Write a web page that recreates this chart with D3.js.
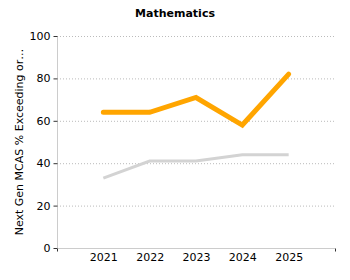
<!DOCTYPE html>
<html>
<head>
<meta charset="utf-8">
<script src="https://cdn.jsdelivr.net/npm/d3@7"></script>
<style>
  body { margin: 0; background: #fff; }
  text { font-family: "DejaVu Sans", Verdana, sans-serif; }
</style>
</head>
<body>
<svg id="chart" width="350" height="280"></svg>
<script>
const years = [2021, 2022, 2023, 2024, 2025];
const schoolValues = [64, 64, 71, 58, 82];
const stateValues = [33, 41, 41, 44, 44];
const yTicks = [0, 20, 40, 60, 80, 100];

const svg = d3.select("#chart");
const margin = { left: 57, right: 15, top: 36, bottom: 32 };
const width = 350, height = 280;

const x = d3.scaleLinear().domain([2020, 2026]).range([margin.left, width - margin.right]);
const y = d3.scaleLinear().domain([0, 100]).range([height - margin.bottom, margin.top]);

// grid
svg.append("g").selectAll("line")
    .data(yTicks.filter(d => d > 0))
    .join("line")
    .attr("x1", margin.left).attr("x2", width - margin.right)
    .attr("y1", d => y(d) + 0.5).attr("y2", d => y(d) + 0.5)
    .attr("stroke", "#bbb").attr("stroke-dasharray", "1,2");

// y axis
const yAxis = svg.append("g")
    .attr("transform", `translate(${margin.left + 0.5},0)`)
    .call(d3.axisLeft(y).tickValues(yTicks).tickSize(4).tickPadding(3));
yAxis.select(".domain").attr("stroke", "#ccc").attr("d", `M0,${y(100)}V${y(0)}`);
yAxis.selectAll(".tick line").attr("stroke", "#333");
yAxis.selectAll("text").attr("font-size", 11).attr("fill", "#000");

// x axis
const xAxis = svg.append("g")
    .attr("transform", `translate(0,${y(0) + 0.5})`)
    .call(d3.axisBottom(x).tickValues(years).tickFormat(d3.format("d")).tickSize(0).tickPadding(5));
xAxis.select(".domain").attr("stroke", "#ccc").attr("d", `M${x(2020)},0H${x(2026)}`);
xAxis.selectAll("text").attr("font-size", 11).attr("fill", "#000");
xAxis.selectAll(".end").data([2020, 2026]).join("line")
    .attr("x1", d => x(d) + 0.5).attr("x2", d => x(d) + 0.5)
    .attr("y1", 0).attr("y2", 3).attr("stroke", "#333");

const line = d3.line().x((d, i) => x(years[i])).y(d => y(d));

svg.append("path").datum(stateValues)
    .attr("d", line).attr("fill", "none")
    .attr("stroke", "#d3d3d3").attr("stroke-width", 3);

svg.append("path").datum(schoolValues)
    .attr("d", line).attr("fill", "none")
    .attr("stroke", "#ffa500").attr("stroke-width", 5)
    .attr("stroke-linecap", "round").attr("stroke-linejoin", "miter");

// title
svg.append("text")
    .attr("x", 175).attr("y", 17)
    .attr("text-anchor", "middle")
    .attr("font-size", 11).attr("font-weight", "bold")
    .text("Mathematics");

// y label
svg.append("text")
    .attr("transform", `translate(23,${(y(0) + y(100)) / 2}) rotate(-90)`)
    .attr("text-anchor", "middle")
    .attr("font-size", 11)
    .text("Next Gen MCAS % Exceeding or…");
</script>
</body>
</html>
